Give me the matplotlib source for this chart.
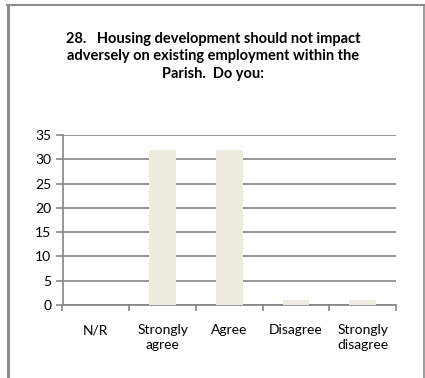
import matplotlib
matplotlib.use("Agg")
import matplotlib.pyplot as plt
from matplotlib.lines import Line2D

plt.rcParams["font.family"] = ["Lato", "DejaVu Sans"]

categories = ["N/R", "Strongly\nagree", "Agree", "Disagree", "Strongly\ndisagree"]
counts = [0, 32, 32, 1, 1]
title = "28.   Housing development should not impact\nadversely on existing employment within the\nParish.  Do you:"

W, H = 425, 378
fig = plt.figure(figsize=(W / 100, H / 100), dpi=100)
ax = fig.add_axes([62.5 / W, 1 - 305 / H, (396 - 62.5) / W, (305 - 135) / H])

x = range(len(categories))
ax.bar(x, counts, width=0.4, color="#eeece1", zorder=3)

ax.set_xlim(-0.5, len(categories) - 0.5)
ax.set_ylim(0, 35)
ax.set_yticks(range(0, 36, 5))
ax.set_xticks(list(x))
ax.set_xticklabels(categories, fontsize=10, linespacing=1.3)
ax.tick_params(axis="x", length=0, pad=14)
ax.tick_params(axis="y", length=5, color="#868686", width=1.2, labelsize=10, pad=3)
ax.set_xticks([i - 0.5 for i in range(len(categories) + 1)], minor=True)
ax.tick_params(axis="x", which="minor", length=4, width=1.2, color="#868686", direction="out")

ax.yaxis.grid(True, color="#868686", linewidth=1.2, zorder=0)
for s in ["top", "right"]:
    ax.spines[s].set_visible(False)
ax.spines["left"].set_color("#868686")
ax.spines["left"].set_linewidth(1.2)
ax.spines["bottom"].set_color("#868686")
ax.spines["bottom"].set_linewidth(1.2)

fig.text(213 / W, 1 - 32 / H, title, ha="center", va="top", fontsize=10.5,
         fontweight="bold", linespacing=1.3)

# chart border
fig.add_artist(Line2D([7.5 / W, 7.5 / W], [0, 1 - 4.5 / H], color="#8c8c8c", linewidth=2.2))
fig.add_artist(Line2D([6.5 / W, 424 / W], [1 - 4.5 / H, 1 - 4.5 / H], color="#8c8c8c", linewidth=1.5))
fig.add_artist(Line2D([424 / W, 424 / W], [0, 1 - 4.5 / H], color="#8c8c8c", linewidth=1.2))

fig.savefig("out.png", dpi=100)
